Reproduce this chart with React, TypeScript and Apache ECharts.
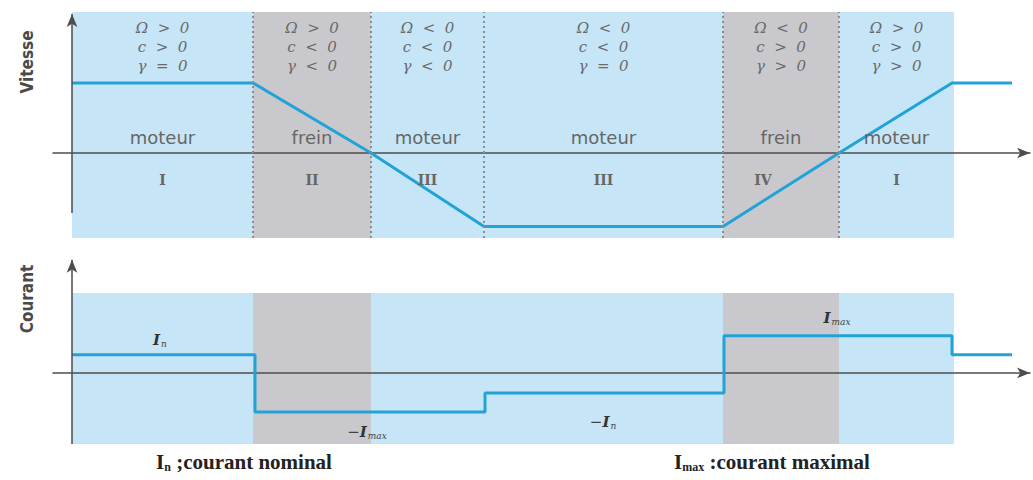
import React, { useEffect, useRef } from "react";
import * as echarts from "echarts";

// Region boundaries along the time axis
const regionBounds = [0, 18.1, 29.9, 41.2, 65.1, 76.7, 88.2];
const regionShade = ["blue", "gray", "blue", "blue", "gray", "blue"];
const regionModes = ["moteur", "frein", "moteur", "moteur", "frein", "moteur"];
const regionQuadrants = ["I", "II", "III", "III", "IV", "I"];
const omegaSigns = ["Ω  >  0", "Ω  >  0", "Ω  <  0", "Ω  <  0", "Ω  <  0", "Ω  >  0"];
const torqueSigns = ["c  >  0", "c  <  0", "c  <  0", "c  <  0", "c  >  0", "c  >  0"];
const accelSigns = ["γ  =  0", "γ  <  0", "γ  <  0", "γ  =  0", "γ  >  0", "γ  >  0"];

// Speed profile (Vitesse)
const speedTimes = [0, 18.1, 29.9, 41.2, 65.1, 76.7, 88.0, 94.0];
const speedValues = [100, 100, 0, -105, -105, 0, 100, 100];

// Current profile (Courant), step changes
const currentTimes = [0, 18.3, 41.3, 65.2, 88.0, 94.0];
const currentValues = [0.95, -2.05, -1.05, 1.95, 0.95, 0.95];

// Current annotations
const currentLabels = [
  { sub: "n", neg: false, t: 8.8, v: 1.75 },
  { sub: "max", neg: true, t: 29.5, v: -3.1 },
  { sub: "n", neg: true, t: 53.1, v: -2.6 },
  { sub: "max", neg: false, t: 76.5, v: 2.9 },
];

const X_MIN = -1.9;
const X_MAX = 95.8;
const SPEED_MIN = -121.4;
const SPEED_MAX = 201.4;
const SPEED_AXIS_BOTTOM = -85.7;
const CUR_MIN = -3.74;
const CUR_MAX = 6.1;
const CUR_BG_TOP = 4.21;

const BLUE = "#c6e5f6";
const GRAY = "#c9c9cd";
const LINE = "#22a3d8";
const AXIS = "#4d4d4d";
const TXT = "#6a6a6a";

export default function App() {
  const ref = useRef<HTMLDivElement>(null);
  useEffect(() => {
    const chart = echarts.init(ref.current!, null, { renderer: "svg" });
    const mid = (i: number) => (regionBounds[i] + regionBounds[i + 1]) / 2;
    const areas = (yLow: number, yHigh: number) =>
      regionShade.map((s, i) => [
        { coord: [regionBounds[i], yLow], itemStyle: { color: s === "blue" ? BLUE : GRAY } },
        { coord: [regionBounds[i + 1], yHigh] },
      ]);
    const hidden = { show: false };
    const xAxisCommon = {
      type: "value",
      min: X_MIN,
      max: X_MAX,
      z: 3,
      axisLine: {
        onZero: true,
        symbol: ["none", "arrow"],
        symbolSize: [8, 13],
        lineStyle: { color: AXIS, width: 1.5 },
      },
      axisTick: hidden,
      axisLabel: hidden,
      splitLine: hidden,
    };
    const yAxisCommon = {
      type: "value",
      axisLine: hidden,
      axisTick: hidden,
      axisLabel: hidden,
      splitLine: hidden,
    };
    const markPt = (t: number, v: number, text: string, style: any) => ({
      coord: [t, v],
      symbol: "circle",
      symbolSize: 1,
      itemStyle: { color: "transparent" },
      label: { show: true, position: "inside", formatter: text, ...style },
    });
    const subRich = {
      i: { fontFamily: "DejaVu Serif", fontStyle: "italic", fontWeight: "bold", fontSize: 15, color: "#333" },
      s: { fontFamily: "DejaVu Serif", fontStyle: "italic", fontSize: 9, color: "#444", padding: [8, 0, 0, 1] },
      m: { fontFamily: "DejaVu Serif", fontSize: 15, color: "#444" },
    };

    const topLabels: any[] = [];
    regionModes.forEach((m, i) => {
      topLabels.push(
        markPt(mid(i), 151, `${omegaSigns[i]}\n${torqueSigns[i]}\n${accelSigns[i]}`, {
          fontFamily: "DejaVu Serif",
          fontStyle: "italic",
          fontSize: 15,
          lineHeight: 19,
          color: TXT,
        })
      );
      topLabels.push(
        markPt(mid(i), 21.5, m, { fontFamily: "DejaVu Sans", fontSize: 18, color: "#666" })
      );
      topLabels.push(
        markPt(i === 4 ? mid(i) - 1.8 : mid(i), -38.6, regionQuadrants[i], {
          fontFamily: "DejaVu Serif",
          fontSize: 14,
          fontWeight: "bold",
          color: "#666",
        })
      );
    });

    const botLabels = currentLabels.map((l) =>
      markPt(l.t, l.v, `${l.neg ? "{m|−}" : ""}{i|I}{s|${l.sub}}`, { rich: subRich })
    );

    const captionRich = {
      b: { fontFamily: "Liberation Serif", fontWeight: "bold", fontSize: 21, fill: "#222" },
      s: { fontFamily: "Liberation Serif", fontWeight: "bold", fontSize: 12, fill: "#222", padding: [9, 0, 0, 0] },
    };

    chart.setOption({
      animation: false,
      grid: [
        { left: 53, right: 3, top: 12, bottom: 242 },
        { left: 53, right: 3, top: 257, bottom: 36 },
      ],
      xAxis: [
        { ...xAxisCommon, gridIndex: 0 },
        { ...xAxisCommon, gridIndex: 1 },
      ],
      yAxis: [
        { ...yAxisCommon, gridIndex: 0, min: SPEED_MIN, max: SPEED_MAX },
        { ...yAxisCommon, gridIndex: 1, min: CUR_MIN, max: CUR_MAX },
      ],
      series: [
        {
          type: "line",
          xAxisIndex: 0,
          yAxisIndex: 0,
          data: [],
          z: 1,
          silent: true,
          markArea: { silent: true, data: areas(SPEED_MIN, SPEED_MAX) },
        },
        {
          type: "line",
          xAxisIndex: 0,
          yAxisIndex: 0,
          data: [],
          z: 2,
          silent: true,
          markLine: {
            silent: true,
            symbol: ["none", "none"],
            label: hidden,
            lineStyle: { color: "#8d8d8d", type: [2, 3], width: 2 },
            data: regionBounds.slice(1, -1).map((b) => [
              { coord: [b, SPEED_MIN] },
              { coord: [b, SPEED_MAX] },
            ]),
          },
        },
        {
          type: "line",
          xAxisIndex: 0,
          yAxisIndex: 0,
          z: 4,
          silent: true,
          showSymbol: false,
          lineStyle: { color: LINE, width: 3 },
          data: speedTimes.map((t, i) => [t, speedValues[i]]),
          markLine: {
            silent: true,
            symbol: ["none", "arrow"],
            symbolSize: [8, 13],
            label: hidden,
            lineStyle: { color: AXIS, width: 1.5, type: "solid" },
            data: [[{ coord: [0, SPEED_AXIS_BOTTOM] }, { coord: [0, SPEED_MAX - 3] }]],
          },
          markPoint: { silent: true, data: topLabels },
        },
        {
          type: "line",
          xAxisIndex: 1,
          yAxisIndex: 1,
          data: [],
          z: 1,
          silent: true,
          markArea: { silent: true, data: areas(CUR_MIN, CUR_BG_TOP) },
        },
        {
          type: "line",
          xAxisIndex: 1,
          yAxisIndex: 1,
          z: 4,
          silent: true,
          step: "end",
          showSymbol: false,
          lineStyle: { color: LINE, width: 3 },
          data: currentTimes.map((t, i) => [t, currentValues[i]]),
          markLine: {
            silent: true,
            symbol: ["none", "arrow"],
            symbolSize: [8, 13],
            label: hidden,
            lineStyle: { color: AXIS, width: 1.5, type: "solid" },
            data: [[{ coord: [0, CUR_MIN] }, { coord: [0, CUR_MAX - 0.15] }]],
          },
          markPoint: { silent: true, data: botLabels },
        },
      ],
      graphic: [
        {
          type: "text",
          x: 27,
          y: 62,
          rotation: Math.PI / 2,
          style: {
            text: "Vitesse",
            align: "center",
            verticalAlign: "middle",
            fontFamily: "Liberation Sans Narrow, DejaVu Sans Condensed, sans-serif",
            fontWeight: "bold",
            fontSize: 17,
            fill: "#4a4a4a",
          },
        },
        {
          type: "text",
          x: 27,
          y: 299,
          rotation: Math.PI / 2,
          style: {
            text: "Courant",
            align: "center",
            verticalAlign: "middle",
            fontFamily: "Liberation Sans Narrow, DejaVu Sans Condensed, sans-serif",
            fontWeight: "bold",
            fontSize: 17,
            fill: "#4a4a4a",
          },
        },
        {
          type: "text",
          x: 244,
          y: 462,
          style: {
            text: "{b|I}{s|n}{b| ;courant nominal}",
            align: "center",
            verticalAlign: "middle",
            rich: captionRich,
          },
        },
        {
          type: "text",
          x: 772,
          y: 462,
          style: {
            text: "{b|I}{s|max}{b| :courant maximal}",
            align: "center",
            verticalAlign: "middle",
            rich: captionRich,
          },
        },
      ],
    });
    return () => chart.dispose();
  }, []);
  return (
    <div
      ref={ref}
      style={{ position: "fixed", left: 0, top: 0, width: 1033, height: 480, background: "#fff" }}
    />
  );
}
